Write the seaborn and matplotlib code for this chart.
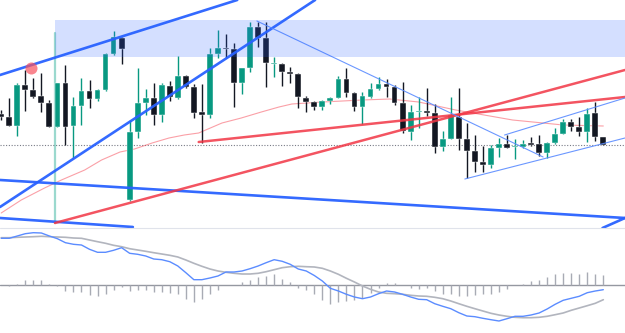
import numpy as np
import pandas as pd
import matplotlib
matplotlib.use("Agg")
import matplotlib.pyplot as plt
import seaborn as sns

# OHLC per candle (index 0..75)
opens = [126, 123, 114, 155, 150, 144, 137, 113, 157, 114, 134, 149, 141, 150, 186, 202,
         40, 108, 137, 142, 125, 154, 142, 164, 153, 128, 125, 186, 192, 191, 157, 172,
         213, 202, 176, 176, 168, 166, 142, 138, 133, 139, 142, 161, 147, 133, 143, 151,
         156, 153, 137, 108, 128, 129, 127, 93, 101, 123, 101, 89, 78, 75, 92, 96,
         93, 93, 97, 96, 87, 97, 106, 118, 113, 108, 127, 103]
highs = [130, 142, 157, 170, 162, 167, 140, 157, 175, 143, 162, 160, 151, 187, 209, 203,
         120, 172, 151, 157, 157, 159, 184, 165, 156, 156, 192, 210, 206, 197, 172, 218,
         218, 218, 183, 177, 173, 167, 144, 139, 140, 143, 164, 172, 148, 148, 157, 163,
         161, 155, 158, 135, 143, 152, 136, 109, 143, 152, 117, 105, 94, 95, 102, 105,
         101, 100, 103, 105, 98, 112, 121, 121, 123, 132, 138, 103]
lows = [120, 114, 104, 129, 142, 128, 113, 113, 95, 82, 115, 132, 139, 149, 185, 176,
        39, 102, 125, 115, 118, 139, 141, 152, 122, 97, 122, 182, 182, 133, 146, 168,
        193, 153, 163, 154, 157, 132, 128, 130, 130, 136, 142, 143, 129, 116, 142, 150,
        143, 135, 107, 100, 112, 124, 87, 89, 101, 90, 62, 68, 68, 72, 83, 92,
        81, 92, 94, 84, 82, 96, 106, 109, 104, 98, 99, 95]
closes = [123, 114, 155, 150, 143, 137, 113, 157, 113, 134, 149, 141, 150, 186, 203, 191,
          108, 137, 142, 125, 155, 143, 164, 153, 127, 125, 186, 192, 191, 157, 172, 213,
          202, 177, 177, 168, 166, 143, 138, 133, 139, 142, 161, 147, 133, 144, 151, 156,
          153, 137, 109, 128, 129, 127, 93, 101, 125, 101, 89, 78, 75, 92, 96, 92,
          94, 96, 95, 87, 97, 106, 118, 113, 108, 126, 103, 95]

# moving average (vertices)
ma_idx = [0, 2.5, 5.4, 7.5, 10.4, 12.5, 14.8, 16.6, 18.8, 20.9, 22.8, 24.6, 27.5, 29.9,
          32.4, 34.6, 36.2, 40, 45, 48.4, 52, 56.6, 63.7, 70, 75]
ma_val = [27, 40, 52, 60, 70, 80, 88, 91, 97, 102, 105, 107, 117, 122,
          128, 133, 136, 138, 140, 141, 138, 130, 120, 115, 114]

# MACD panel
macd = [46.7, 46.7, 49, 51.3, 52.3, 52, 49, 46.3, 42.3, 40.7, 40, 35.7, 32.7, 32.7, 34.7, 37.3,
        31.7, 30.7, 29, 26, 25.3, 23.3, 19, 12.3, 5.3, 5.3, 7, 9, 13, 13, 14, 16.3,
        19, 22.3, 25.3, 23.7, 20.7, 16, 14, 9.5, 4, -3.3, -6, -9.3, -12, -13.7,
        -12, -8.7, -6, -7, -9.3, -12, -14.3, -14.7, -18.7, -21.3, -23.7, -27.7, -31, -31.7,
        -33.3, -34.7, -36, -33.7, -31.3, -31.3, -30, -28, -24, -19.3, -15.3, -13.3, -11.3,
        -7.7, -6, -4.7]
signal = [47.3, 47.3, 47.7, 48, 48.3, 48.7, 48.3, 48, 47.7, 47, 46.7, 45, 43.3, 41.7, 39.7, 38.3,
          36.3, 35, 33.7, 32.3, 31, 29.7, 28, 25, 21.7, 18.7, 16, 14, 12.7, 11.7, 11, 11,
          11.7, 13.3, 15.3, 17.3, 18.3, 18.7, 18.3, 18, 16.7, 14, 10.7, 6.7, 3, -1,
          -4.3, -7, -8.3, -8.7, -9.3, -10.3, -11, -11.3, -12.3, -13.7, -16, -18.7, -21.3, -23.7,
          -26, -28.3, -30, -31.3, -32.3, -32.7, -32.7, -32.3, -31.3, -29.7, -28, -25.3, -23,
          -20.7, -18.3, -14.7]
hist = [0, -1.3, 1.3, 4.7, 5.3, 4.7, 1.3, -1.3, -6, -7.3, -7.3, -10.3, -11.3, -8.7, -5.3, -2,
        -6, -4.7, -4.7, -6.7, -6.7, -8, -9.3, -14, -17.3, -14, -9.3, -5.3, 0.3, 0.3, 3.3, 5.3,
        8, 9.3, 10.7, 6, 2.7, -3.3, -5.3, -9.3, -15.3, -18.7, -17.3, -16, -15.3, -12.7,
        -8, -2.7, 2.3, 2.3, 0.3, -2.7, -4, -3.3, -6, -8.7, -9.3, -11.3, -11.3, -10,
        -8.7, -8.7, -6.7, -4, 0.3, 1.3, 4, 5.3, 8, 10.7, 12.3, 12.3, 11.3, 13.3, 11.3, 10]

# drawings: (x0, y0, x1, y1) in candle index / price
thick_blue = [(-0.15, 165, 29.4, 240), (-0.15, 33, 39.1, 240),
              (-0.15, 60, 77.7, 22), (-0.15, 22, 16.4, 13), (74.9, 12, 77.7, 22)]
thick_red = [(6.7, 17, 77.7, 170), (24.6, 98, 77.7, 143)]
thin_blue = [(31.85, 219, 67.5, 83), (57.75, 61, 77.7, 102), (62.7, 105, 77.7, 142)]
zone_x0, zone_lo, zone_hi = 6.7, 183, 220
marker_x, marker_y = 3.67, 172
vline_x, vline_lo, vline_hi = 6.7, 17, 207
last_price = 95

GREEN = "#089981"
DARK = "#131722"

sns.set_theme(style="white")
plt.rcParams['font.family'] = ['DejaVu Sans']

fig = plt.figure(figsize=(6.25, 3.33), dpi=100)
ax = fig.add_axes([0, 105 / 333, 1, 228 / 333])
ax2 = fig.add_axes([0, 0, 1, 105 / 333])

df = pd.DataFrame({"open": opens, "high": highs, "low": lows, "close": closes})
df["idx"] = np.arange(len(df))
df["up"] = df["close"] >= df["open"]

# candles
for _, r in df.iterrows():
    col = GREEN if r["up"] else DARK
    ax.vlines(r["idx"], r["low"], r["high"], color=col, lw=1.0, zorder=3)
    lo = min(r["open"], r["close"])
    h = max(abs(r["close"] - r["open"]), 0.8)
    ax.bar(r["idx"], h, bottom=lo, width=0.72, color=col, edgecolor="white",
           linewidth=0.3, zorder=4)

# moving average
sns.lineplot(x=ma_idx, y=ma_val, ax=ax, color="#f7525f", lw=0.8, alpha=0.55, zorder=2)

# zone + vertical marker
ax.axhspan(zone_lo, zone_hi, xmin=(zone_x0 + 0.15) / 77.85, xmax=1,
           color="#2962ff", alpha=0.2, lw=0, zorder=6)
ax.plot([vline_x, vline_x], [vline_lo, vline_hi], color="#22ab94", alpha=0.45, lw=1.6, zorder=2)

# drawings
for x0, y0, x1, y1 in thick_blue:
    ax.plot([x0, x1], [y0, y1], color="#2962ff", lw=1.9, alpha=0.95, zorder=5)
for x0, y0, x1, y1 in thick_red:
    ax.plot([x0, x1], [y0, y1], color="#f23645", lw=1.8, alpha=0.85, zorder=5)
for x0, y0, x1, y1 in thin_blue:
    ax.plot([x0, x1], [y0, y1], color="#5b8cff", lw=0.8, alpha=0.9, zorder=5)

ax.scatter([marker_x], [marker_y], s=75, color="#f7525f", alpha=0.7, lw=0, zorder=7)
ax.axhline(last_price, color="#787b86", lw=0.8, ls=(0, (1, 1.5)), zorder=1)

ax.set_xlim(-0.15, 77.7)
ax.set_ylim(12, 240)

# MACD panel
idx = np.arange(len(hist))
ax2.vlines(idx, 0, hist, color="#a8abb4", lw=1.0, zorder=2)
ax2.axhline(0, color="#9598a1", lw=1.0, ls="-", zorder=1)
sns.lineplot(x=idx, y=signal, ax=ax2, color="#b2b5be", lw=1.2, zorder=3)
sns.lineplot(x=idx, y=macd, ax=ax2, color="#5b8cff", lw=1.0, zorder=4)
ax2.set_xlim(-0.15, 77.7)
ax2.set_ylim(-48, 57)

for a in (ax, ax2):
    a.set_xticks([])
    a.set_yticks([])
    a.set_xlabel("")
    a.set_ylabel("")
    for s in a.spines.values():
        s.set_visible(False)
    a.set_facecolor("white")

fig.add_artist(plt.Line2D([0, 1], [105 / 333, 105 / 333], color="#e0e3eb", lw=0.8))

fig.savefig("out.png", dpi=100)
